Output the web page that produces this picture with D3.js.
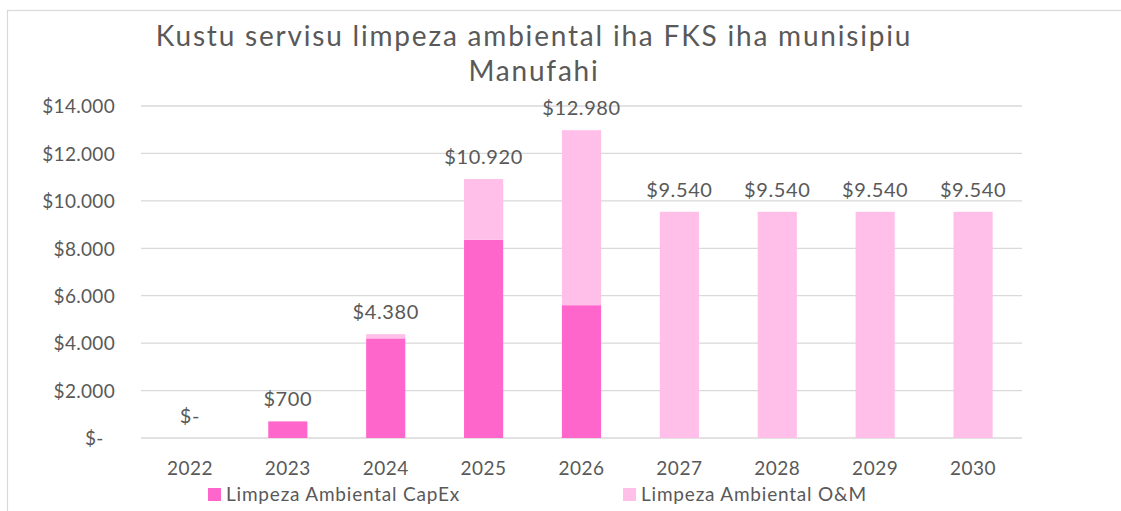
<!DOCTYPE html>
<html>
<head>
<meta charset="utf-8">
<script src="https://cdn.jsdelivr.net/npm/d3@7"></script>
<style>
  html, body { margin: 0; padding: 0; background: #fff; }
  svg { display: block; font-family: Lato, "Open Sans", sans-serif; }
</style>
</head>
<body>
<div id="chart"></div>
<script>
// Data
const years    = ["2022", "2023", "2024", "2025", "2026", "2027", "2028", "2029", "2030"];
const capex    = [0, 700, 4200, 8360, 5600, 0, 0, 0, 0];
const om       = [0, 0, 180, 2560, 7380, 9540, 9540, 9540, 9540];
const yTicks   = [0, 2000, 4000, 6000, 8000, 10000, 12000, 14000];
const seriesNames = ["Limpeza Ambiental CapEx", "Limpeza Ambiental O&M"];
const titleLines  = ["Kustu servisu limpeza ambiental iha FKS iha munisipiu", "Manufahi"];

const W = 1121, H = 511;
const COLORS = ["#ff66cc", "#ffbfe9"];
const TEXT = "#595959";

// money format: $14.000, zero -> $-
const fmt = v => v === 0 ? "$-" : "$" + d3.format(",")(v).replace(/,/g, ".");

const svg = d3.select("#chart").append("svg")
    .attr("width", W)
    .attr("height", H);

// chart frame (only left/top edges show in the crop)
svg.append("rect")
    .attr("x", 7.5).attr("y", 10.5)
    .attr("width", W + 20).attr("height", H + 20)
    .attr("fill", "none")
    .attr("stroke", "#d9d9d9")
    .attr("stroke-width", 1.2);

// Title
svg.append("text")
    .attr("x", 534)
    .attr("y", 46)
    .attr("text-anchor", "middle")
    .style("font-size", "28px")
    .style("letter-spacing", "1.8px")
    .style("fill", TEXT)
    .selectAll("tspan")
    .data(titleLines)
    .join("tspan")
    .attr("x", 534)
    .attr("dy", (d, i) => i === 0 ? 0 : 35)
    .text(d => d);

// Scales
const x = d3.scaleBand()
    .domain(years)
    .range([141, 1022])
    .paddingInner(0.6)
    .paddingOuter(0.3);

const y = d3.scaleLinear()
    .domain([0, 14000])
    .range([438, 106]);

// Grid lines
svg.append("g")
    .selectAll("line")
    .data(yTicks)
    .join("line")
    .attr("x1", 141).attr("x2", 1022)
    .attr("y1", d => y(d)).attr("y2", d => y(d))
    .attr("stroke", "#d9d9d9")
    .attr("stroke-width", 1.3);

// Y axis labels
const yAxis = svg.append("g")
    .attr("transform", "translate(115,0)")
    .call(d3.axisLeft(y).tickValues(yTicks).tickSize(0).tickPadding(0)
        .tickFormat(d => d === 0 ? "$-\u2007" : fmt(d)));
yAxis.select(".domain").remove();
yAxis.selectAll("text")
    .style("font-family", "Lato, sans-serif")
    .style("font-size", "19px")
    .style("letter-spacing", "0.3px")
    .style("fill", TEXT)
    .attr("dy", "0.36em");

// X axis labels
const xAxis = svg.append("g")
    .attr("transform", "translate(0,438)")
    .call(d3.axisBottom(x).tickSize(0).tickPadding(24));
xAxis.select(".domain").remove();
xAxis.selectAll("text")
    .style("font-family", "Lato, sans-serif")
    .style("font-size", "19px")
    .style("letter-spacing", "0.5px")
    .style("fill", TEXT);

// Stacked bars
const rows = years.map((yr, i) => ({ year: yr, capex: capex[i], om: om[i] }));
const stacked = d3.stack().keys(["capex", "om"])(rows);

svg.append("g")
    .selectAll("g")
    .data(stacked)
    .join("g")
    .attr("fill", (d, i) => COLORS[i])
    .selectAll("rect")
    .data(d => d)
    .join("rect")
    .attr("x", d => x(d.data.year))
    .attr("y", d => y(d[1]))
    .attr("width", x.bandwidth())
    .attr("height", d => y(d[0]) - y(d[1]));

// Total labels
svg.append("g")
    .selectAll("text")
    .data(rows)
    .join("text")
    .attr("x", d => x(d.year) + x.bandwidth() / 2)
    .attr("y", d => y(d.capex + d.om) - 15)
    .attr("text-anchor", "middle")
    .style("font-size", "20px")
    .style("letter-spacing", "0.6px")
    .style("fill", TEXT)
    .text(d => fmt(d.capex + d.om));

// Legend
const legendX = [208, 623];
const legend = svg.append("g")
    .selectAll("g")
    .data(seriesNames)
    .join("g")
    .attr("transform", (d, i) => `translate(${legendX[i]},488)`);

legend.append("rect")
    .attr("width", 13).attr("height", 13)
    .attr("fill", (d, i) => COLORS[i]);

legend.append("text")
    .attr("x", 18)
    .attr("y", 13)
    .style("font-size", "19px")
    .style("letter-spacing", "0.8px")
    .style("fill", TEXT)
    .text(d => d);
</script>
</body>
</html>
